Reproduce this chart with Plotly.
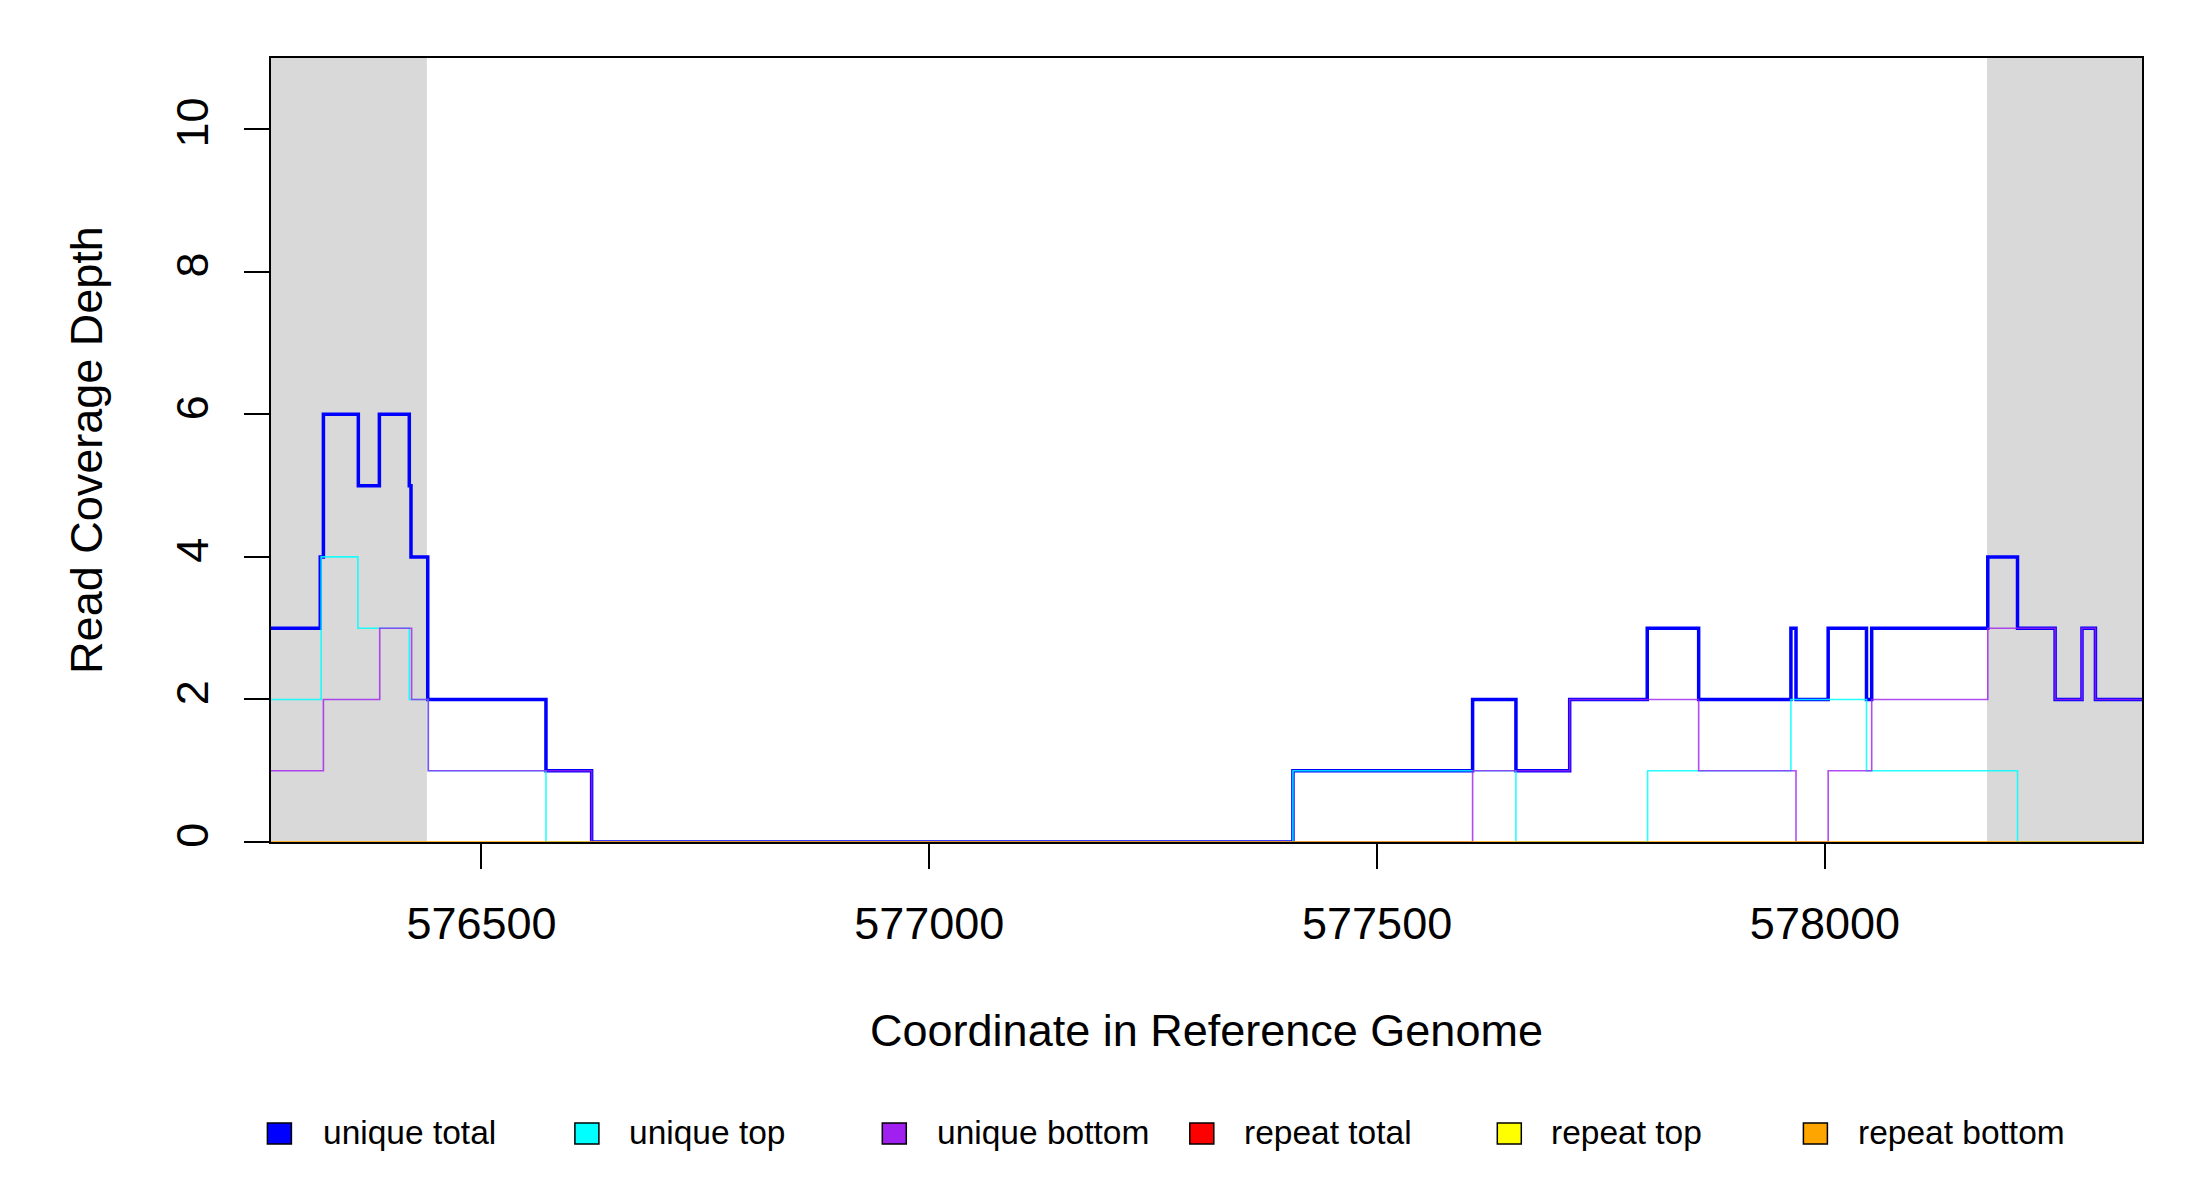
import plotly.graph_objects as go

# ---------------- data ----------------
x_range = [576265, 578354]
shaded_regions = [(576265, 576439), (578181, 578354)]

unique_total_x = [576265, 576320, 576323.5, 576362.5, 576386, 576419.4, 576421.3, 576440,
                  576572, 576623, 577406, 577606.6, 577655, 577715, 577801.6, 577859,
                  577962, 577967.7, 578003.6, 578046.4, 578052.2, 578181.8, 578215,
                  578257, 578287, 578302, 578354]
unique_total_y = [3, 4, 6, 5, 6, 5, 4, 2, 1, 0, 1, 2, 1, 2, 3, 2, 3, 2, 3, 2, 3, 4, 3,
                  2, 3, 2, 2]

unique_top_x = [576265, 576321, 576362, 576419.4, 576440.6, 576572, 577406, 577655,
                577802, 577962, 578046.4, 578215, 578354]
unique_top_y = [2, 4, 3, 2, 1, 0, 1, 0, 1, 2, 1, 0, 0]

unique_bottom_x = [576265, 576323.5, 576386.4, 576422, 576440.6, 576623, 577606.6,
                   577715, 577859, 577967.7, 578003.6, 578052.2, 578181.8, 578257,
                   578287, 578302, 578354]
unique_bottom_y = [1, 2, 3, 2, 1, 0, 1, 2, 1, 0, 1, 2, 3, 2, 3, 2, 2]

repeat_total_x = [576265, 578354]
repeat_total_y = [0, 0]
repeat_top_x = [576265, 578354]
repeat_top_y = [0, 0]
repeat_bottom_x = [576265, 578354]
repeat_bottom_y = [0, 0]

x_ticks = [576500, 577000, 577500, 578000]
y_ticks = [0, 2, 4, 6, 8, 10]

legend_labels = ["unique total", "unique top", "unique bottom",
                 "repeat total", "repeat top", "repeat bottom"]
legend_colors = ["#0000FF", "#00FFFF", "#A020F0", "#FF0000", "#FFFF00", "#FFA500"]

# ---------------- layout geometry ----------------
W, H = 2200, 1200
OFF = 8  # page body margin of the browser
L, R, T, B = 271 - OFF, 2142 - OFF, 58 - OFF, 842 - OFF
FONT = "Liberation Sans, Arial, sans-serif"


def px(xp):
    return (xp - OFF - L) / (R - L)


def py(yp):
    return (B - (yp - OFF)) / (B - T)


fig = go.Figure()

series = [
    ("unique total", unique_total_x, unique_total_y, "#0000FF", 3.5, 1.0),
    ("unique top", unique_top_x, unique_top_y, "#00FFFF", 1.6, 0.85),
    ("unique bottom", unique_bottom_x, unique_bottom_y, "#A020F0", 1.6, 0.8),
    ("repeat total", repeat_total_x, repeat_total_y, "#FF0000", 1.6, 0.5),
    ("repeat top", repeat_top_x, repeat_top_y, "#FFFF00", 1.6, 0.5),
    ("repeat bottom", repeat_bottom_x, repeat_bottom_y, "#FFA500", 1.6, 0.6),
]
for name, xs, ys, col, w, op in series:
    fig.add_trace(go.Scatter(x=xs, y=ys, mode="lines", name=name,
                             line=dict(color=col, width=w, shape="hv"),
                             opacity=op, showlegend=False, hoverinfo="x+y+name"))

shapes = []
for x0, x1 in shaded_regions:
    shapes.append(dict(type="rect", xref="x", yref="paper", x0=x0, x1=x1, y0=0, y1=1,
                       fillcolor="#D9D9D9", line=dict(width=0), layer="below"))

# manual legend (R-style filled boxes)
box_centers = [279.4, 586.9, 894.3, 1201.8, 1509.3, 1815.4]
text_starts = [321, 627, 934.5, 1242, 1549, 1855.5]
annotations = []
for cx, tx, lab, col in zip(box_centers, text_starts, legend_labels, legend_colors):
    shapes.append(dict(type="rect", xref="paper", yref="paper",
                       x0=px(cx - 12), x1=px(cx + 12), y0=py(1144), y1=py(1123),
                       fillcolor=col, line=dict(color="black", width=1.5)))
    annotations.append(dict(xref="paper", yref="paper", x=px(tx), y=py(1132.5),
                            xanchor="left", yanchor="middle", text=lab, showarrow=False,
                            font=dict(family=FONT, size=33.5, color="black")))

fig.update_layout(
    width=W, height=H,
    margin=dict(l=L, r=W - R, t=T, b=H - B, pad=0),
    paper_bgcolor="white", plot_bgcolor="white",
    font=dict(family=FONT, color="black"),
    shapes=shapes, annotations=annotations,
    showlegend=False,
    xaxis=dict(range=x_range, tickvals=x_ticks, ticktext=[str(v) for v in x_ticks],
               ticks="outside", ticklen=25, tickwidth=1.5, tickcolor="black",
               showline=True, linecolor="black", linewidth=1.5, mirror=True,
               showgrid=False, zeroline=False,
               tickfont=dict(family=FONT, size=45), ticklabelstandoff=16,
               title=dict(text="Coordinate in Reference Genome",
                          font=dict(family=FONT, size=45), standoff=67)),
    yaxis=dict(range=[0, 11], tickvals=y_ticks, ticktext=[str(v) for v in y_ticks],
               ticks="outside", ticklen=25, tickwidth=1.5, tickcolor="black",
               tickangle=-90,
               showline=True, linecolor="black", linewidth=1.5, mirror=True,
               showgrid=False, zeroline=False,
               tickfont=dict(family=FONT, size=45), ticklabelstandoff=18,
               title=dict(text="Read Coverage Depth",
                          font=dict(family=FONT, size=45), standoff=51)),
)

fig.write_html("out.html")
